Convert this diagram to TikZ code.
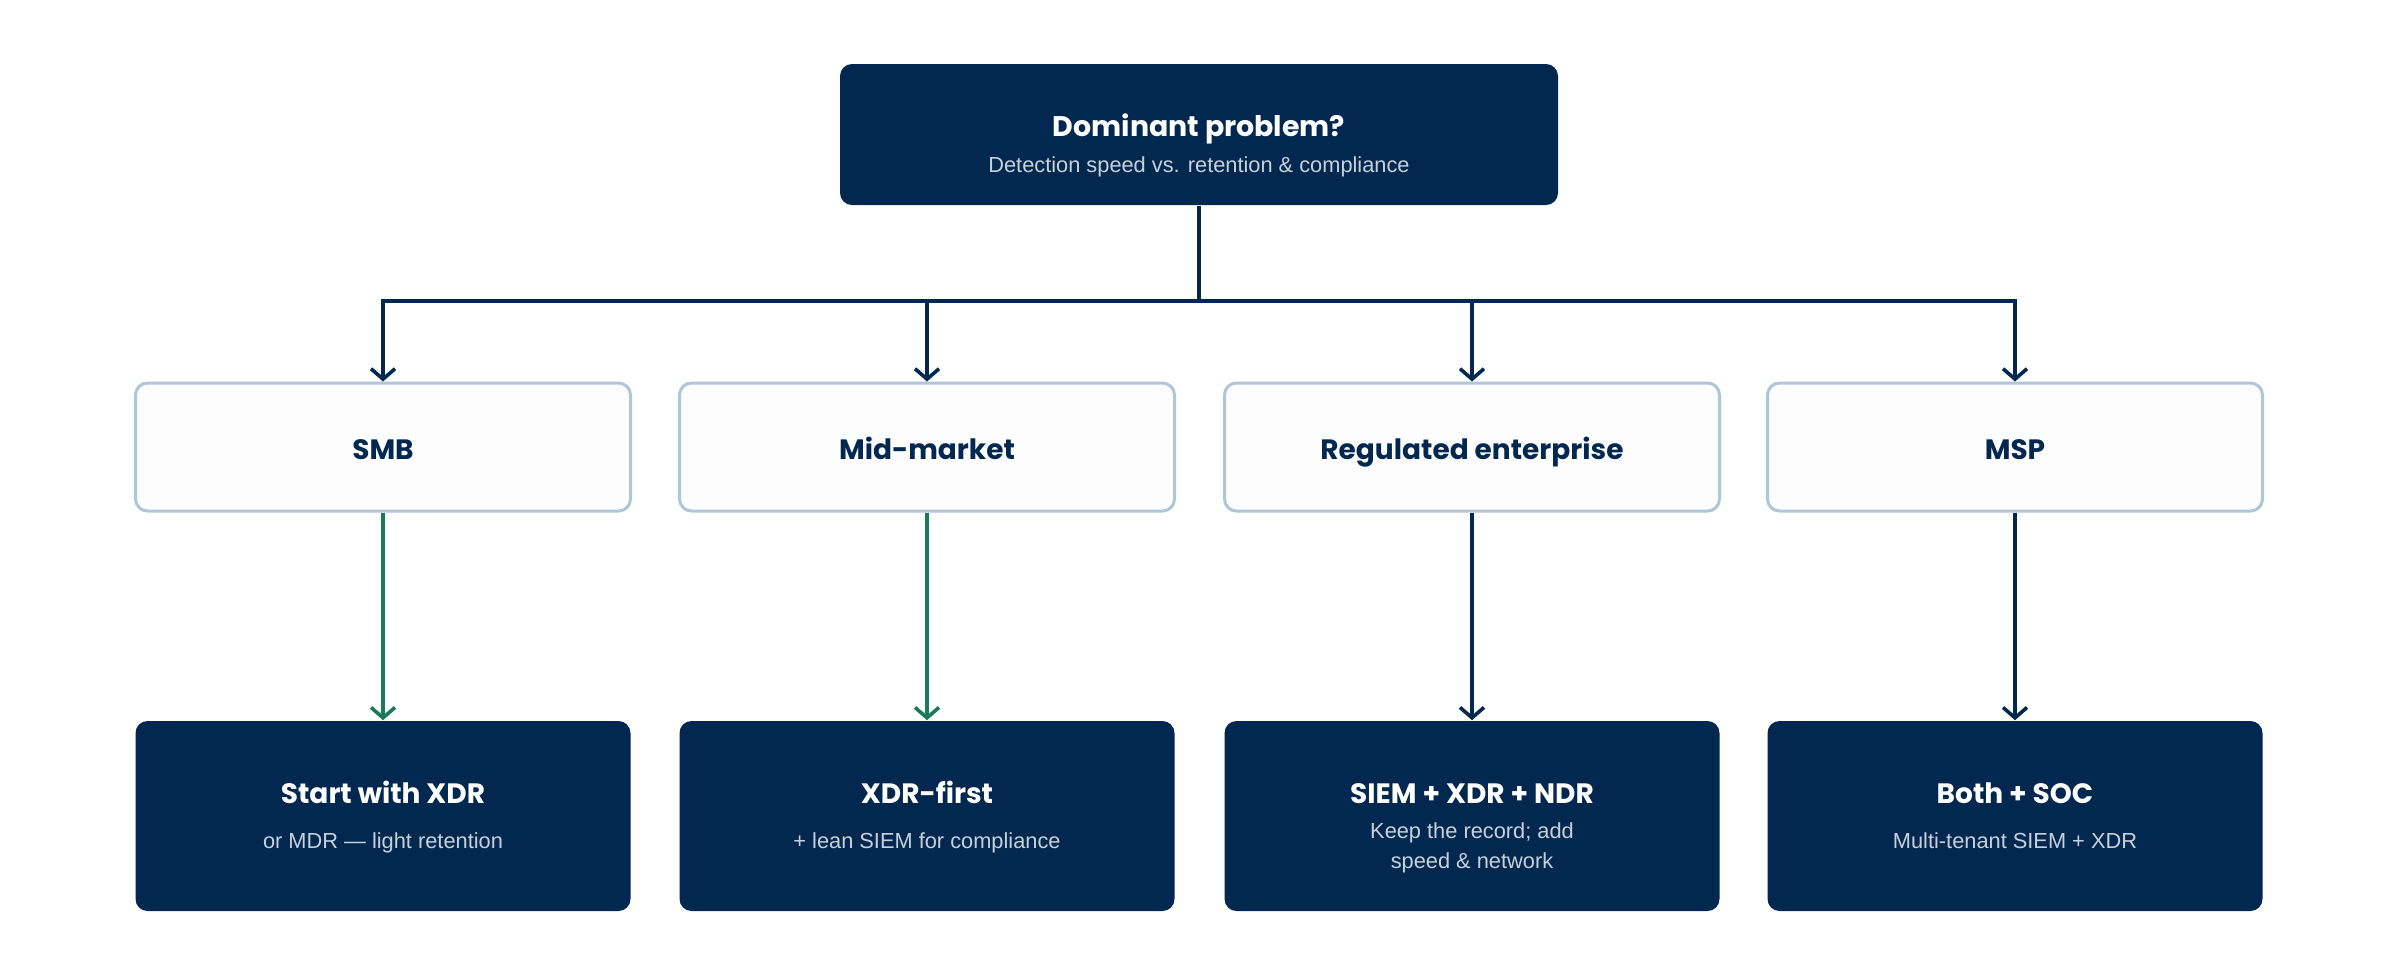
\documentclass[tikz,border=0pt]{standalone}
\usepackage{fontspec}
\setmainfont{Liberation Sans}
\newfontfamily\headfont{Poppins}
\usetikzlibrary{arrows.meta}
\definecolor{navy}{HTML}{02284F}
\definecolor{subgray}{HTML}{C8D0DB}
\definecolor{paleborder}{HTML}{AFC6D8}
\definecolor{palefill}{HTML}{FDFDFE}
\definecolor{greenline}{HTML}{1A7A5B}
\tikzset{
  x=0.25pt, y=-0.25pt,
  darkbox/.style={draw=none, fill=navy, rounded corners=3pt, inner sep=0pt},
  lightbox/.style={draw=paleborder, line width=0.75pt, fill=palefill, rounded corners=3pt, inner sep=0pt,
    minimum width=123.75pt, minimum height=32pt},
  resbox/.style={darkbox, minimum width=123.75pt, minimum height=47.5pt},
  titletext/.style={font=\headfont\bfseries\fontsize{7}{8.5}\selectfont, text=white, inner sep=0pt, align=center},
  midtext/.style={font=\headfont\bfseries\fontsize{7}{8.5}\selectfont, text=navy, inner sep=0pt},
  subtext/.style={font=\fontsize{5.45}{7.3}\selectfont, text=subgray, inner sep=0pt, align=center},
  conn/.style={draw=navy, line width=0.9pt},
  arr/.style={conn, -{Straight Barb[length=2.6pt,width=6pt,line width=0.9pt]}},
  garr/.style={draw=greenline, line width=0.9pt, -{Straight Barb[length=2.6pt,width=6pt,line width=0.9pt]}},
}
\begin{document}
\begin{tikzpicture}
\useasboundingbox[fill=white] (0,0) rectangle (2400,976);

% top box
\node[darkbox, minimum width=179.5pt, minimum height=35.25pt] (top) at (1199,134.5) {};
\node[titletext, font=\headfont\bfseries\fontsize{7.1}{9}\selectfont, anchor=base] (toptitle) at (1199,136) {Dominant problem?};
\node[subtext, anchor=base] (topsub) at (1199,172) {Detection speed vs. retention \& compliance};

% middle boxes
\node[lightbox] (smb) at (383,447) {};
\node[lightbox] (mid) at (927,447) {};
\node[lightbox] (reg) at (1472,447) {};
\node[lightbox] (msp) at (2015,447) {};
\node[midtext, anchor=base] (smbt) at (383,459) {SMB};
\node[midtext, anchor=base] (midt) at (927,459) {Mid-market};
\node[midtext, anchor=base] (regt) at (1472,459) {Regulated enterprise};
\node[midtext, anchor=base] (mspt) at (2015,459) {MSP};

% result boxes
\node[resbox] (r1) at (383,816) {};
\node[resbox] (r2) at (927,816) {};
\node[resbox] (r3) at (1472,816) {};
\node[resbox] (r4) at (2015,816) {};

\node[titletext, anchor=base] (r1t) at (383,803) {Start with XDR};
\node[subtext, anchor=base] (r1s) at (383,848) {or MDR — light retention};
\node[titletext, anchor=base] (r2t) at (927,803) {XDR-first};
\node[subtext, anchor=base] (r2s) at (927,848) {+ lean SIEM for compliance};
\node[titletext, anchor=base] (r3t) at (1472,803) {SIEM + XDR + NDR};
\node[subtext, anchor=base] (r3s1) at (1472,838) {Keep the record; add};
\node[subtext, anchor=base] (r3s2) at (1472,868) {speed \& network};
\node[titletext, anchor=base] (r4t) at (2015,803) {Both + SOC};
\node[subtext, anchor=base] (r4s) at (2015,848) {Multi-tenant SIEM + XDR};

% connectors
\coordinate (bus) at (1199,301);
\coordinate (j1) at (383,301);
\coordinate (j2) at (927,301);
\coordinate (j3) at (1472,301);
\coordinate (j4) at (2015,301);
\draw[conn] (top.south) -- (bus);
\draw[conn, line cap=rect] (j1) -- (j4);
\draw[arr] (j1) -- (smb.north);
\draw[arr] (j2) -- (mid.north);
\draw[arr] (j3) -- (reg.north);
\draw[arr] (j4) -- (msp.north);

\draw[garr] (smb.south) -- (r1.north);
\draw[garr] (mid.south) -- (r2.north);
\draw[arr] (reg.south) -- (r3.north);
\draw[arr] (msp.south) -- (r4.north);
\end{tikzpicture}
\end{document}
